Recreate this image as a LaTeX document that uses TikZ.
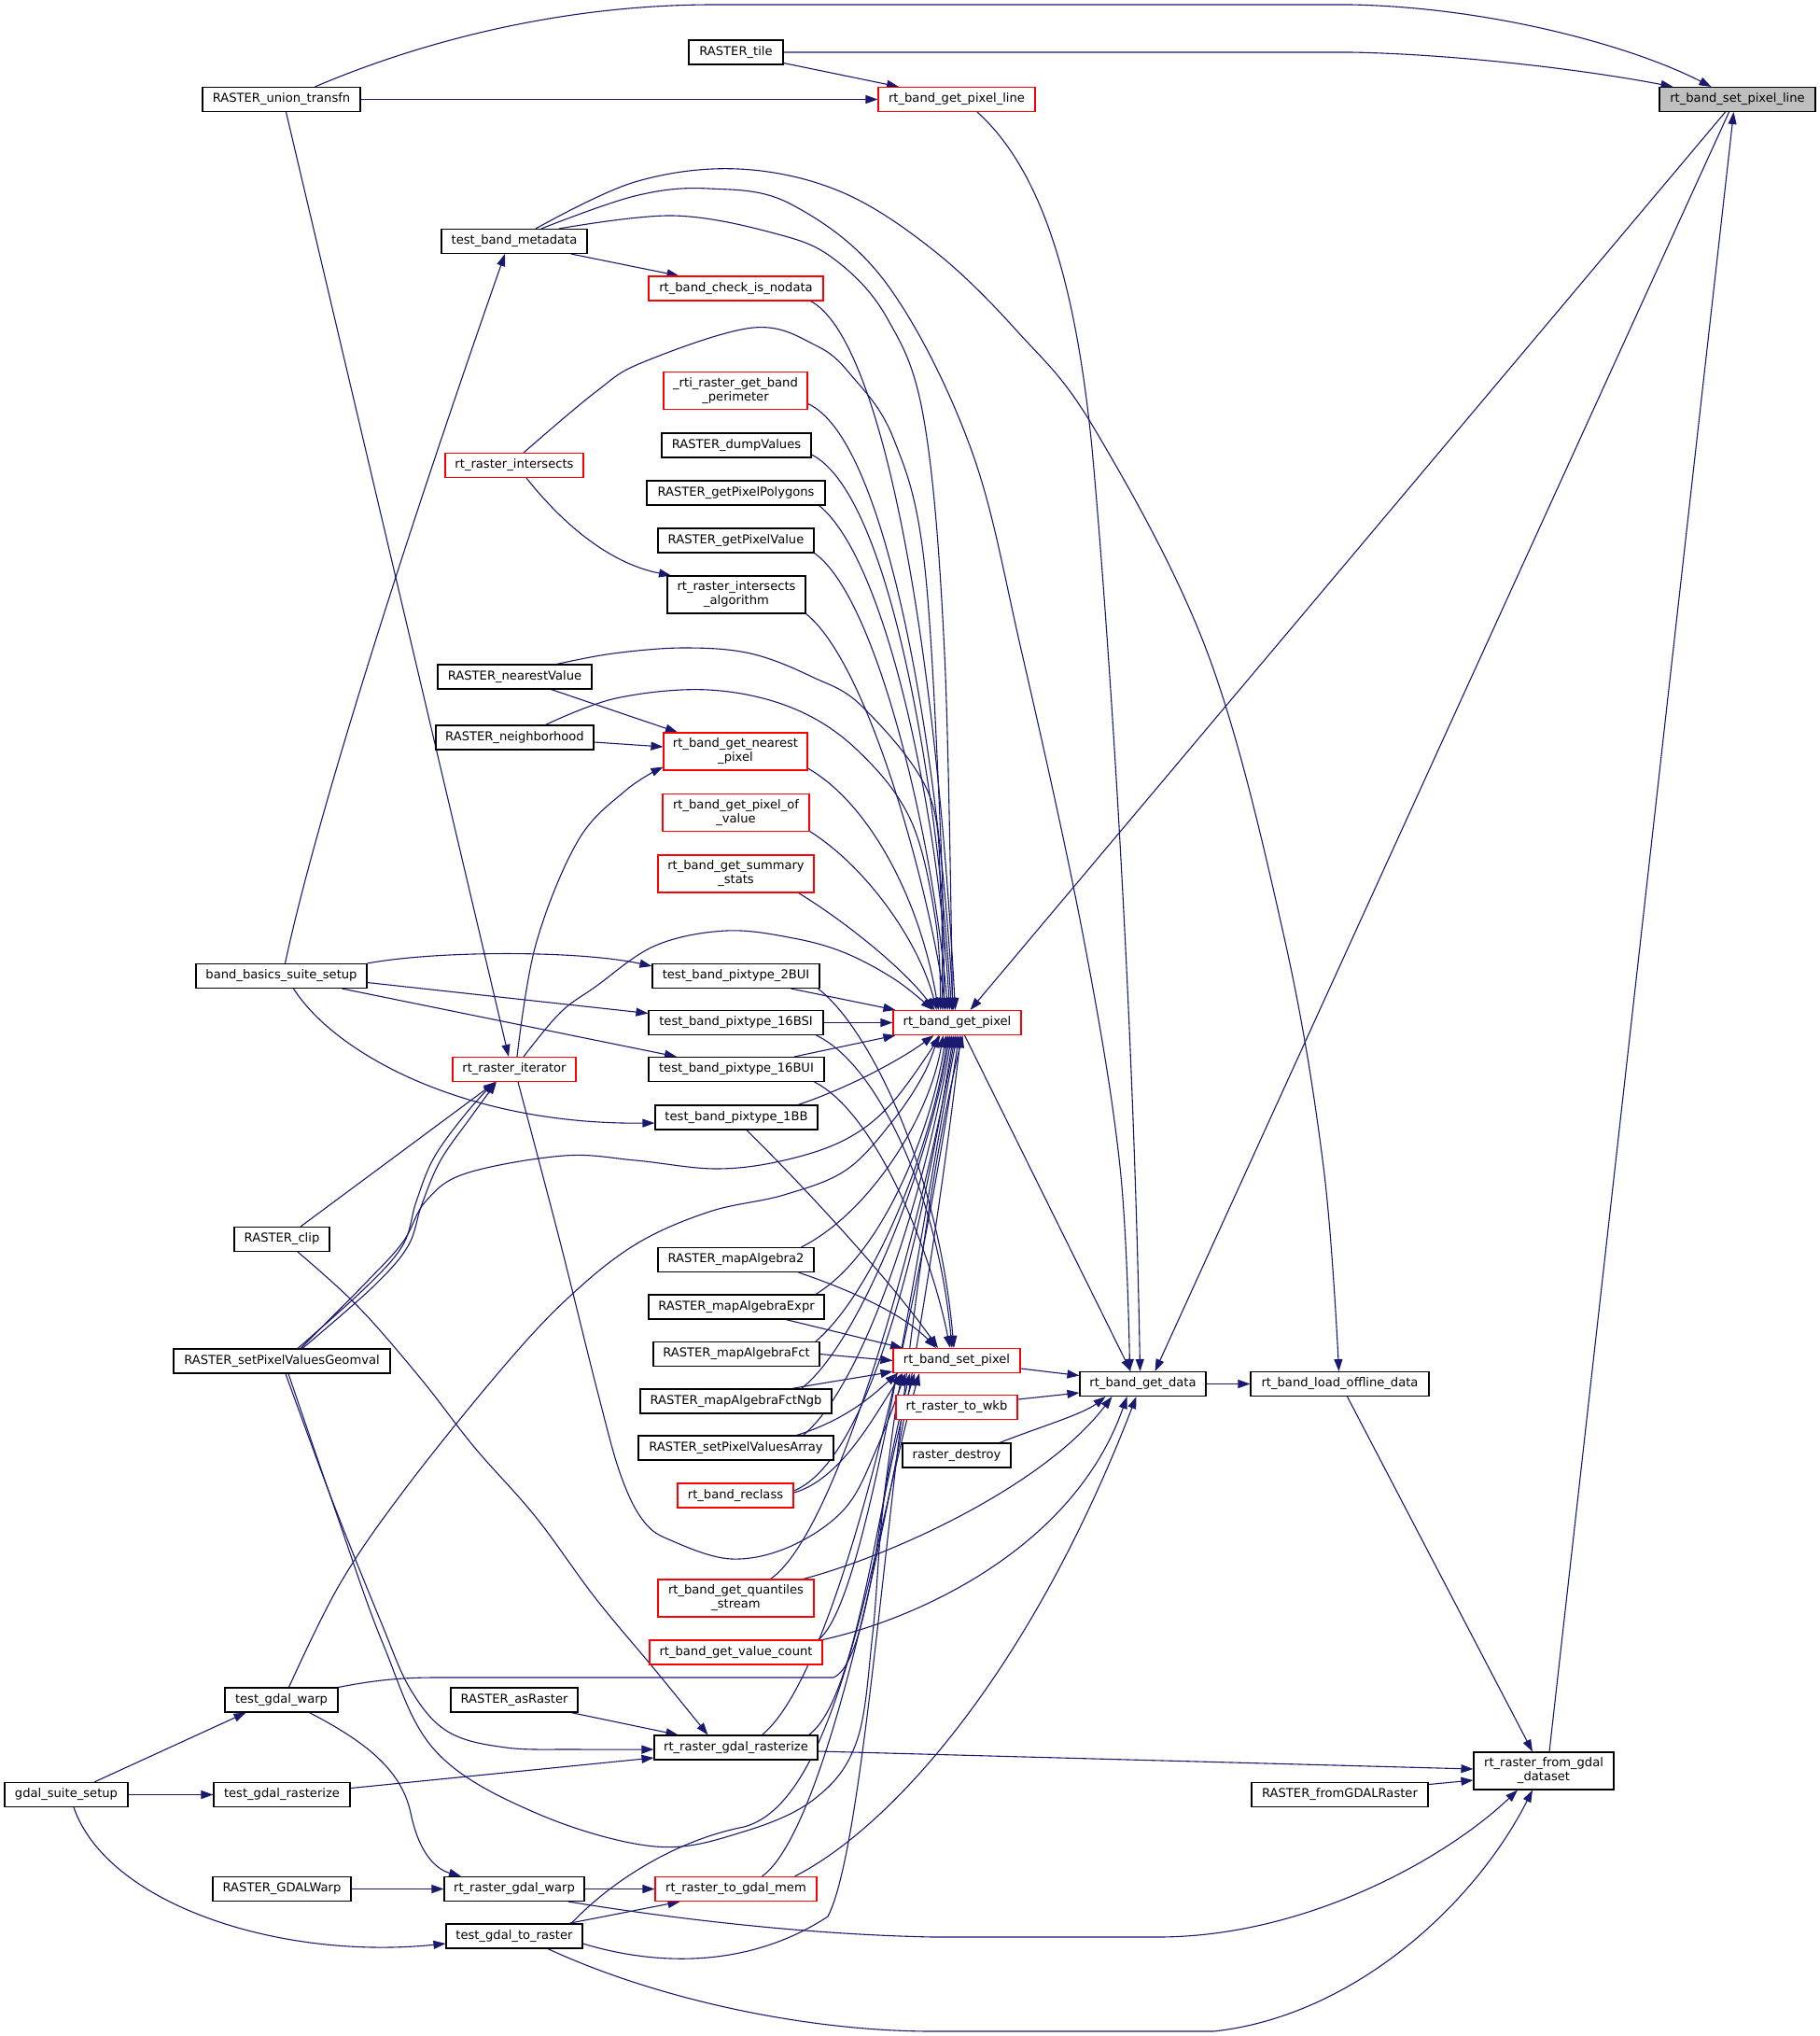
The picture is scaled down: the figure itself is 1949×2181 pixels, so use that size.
\documentclass[tikz,border=0pt]{standalone}
\usepackage{fontspec}
\setmainfont{DejaVu Sans}
\usetikzlibrary{arrows.meta}
\definecolor{edgec}{HTML}{191970}
\definecolor{redb}{HTML}{FF0000}
\definecolor{rootfill}{HTML}{BFBFBF}
\pgfdeclarelayer{paper}
\pgfdeclarelayer{bg}
\pgfsetlayers{paper,bg,main}
\begin{document}
\begin{tikzpicture}[x=1pt,y=-1pt,
  fn/.style={draw=black,line width=1.1pt,fill=white,inner sep=0pt,align=center,font=\fontsize{13.1}{15}\selectfont},
  fnr/.style={fn,draw=redb},
  edge/.style={draw=edgec,line width=1.1pt,-{Triangle[length=13pt,width=9pt]}},
]
\begin{pgfonlayer}{paper}
\fill[white] (0,0) rectangle (1949,2181);
\end{pgfonlayer}
\useasboundingbox (0,0) rectangle (1949,2181);

% ---------- nodes ----------
\node[fn,minimum width=169pt,minimum height=26pt] (unionT) at (301.5,106.5) {RASTER\_union\_transfn};
\node[fn,minimum width=101pt,minimum height=26pt] (tile) at (788.5,56) {RASTER\_tile};
\node[fnr,minimum width=168pt,minimum height=26pt] (getPL) at (1025,106.5) {rt\_band\_get\_pixel\_line};
\node[fn,fill=rootfill,minimum width=167pt,minimum height=26pt] (setPL) at (1861.5,106.5) {rt\_band\_set\_pixel\_line};
\node[fn,minimum width=156pt,minimum height=26pt] (metadata) at (551,258.5) {test\_band\_metadata};
\node[fnr,minimum width=187pt,minimum height=26pt] (checkNodata) at (788.5,309) {rt\_band\_check\_is\_nodata};
\node[fnr,minimum width=154pt,minimum height=40pt] (perimeter) at (788,418.5) {\_rti\_raster\_get\_band\\\_perimeter};
\node[fn,minimum width=160pt,minimum height=26pt] (dumpValues) at (789,477) {RASTER\_dumpValues};
\node[fnr,minimum width=148pt,minimum height=26pt] (intersects) at (551,498.5) {rt\_raster\_intersects};
\node[fn,minimum width=191pt,minimum height=26pt] (polygons) at (788.5,528) {RASTER\_getPixelPolygons};
\node[fn,minimum width=167pt,minimum height=26pt] (pixelValue) at (788.5,579) {RASTER\_getPixelValue};
\node[fn,minimum width=148pt,minimum height=40pt] (intersectsAlg) at (789,637) {rt\_raster\_intersects\\\_algorithm};
\node[fn,minimum width=165pt,minimum height=26pt] (nearestValue) at (551.5,725) {RASTER\_nearestValue};
\node[fn,minimum width=169pt,minimum height=26pt] (neighborhood) at (551.5,790) {RASTER\_neighborhood};
\node[fnr,minimum width=154pt,minimum height=40pt] (nearestPixel) at (788,805) {rt\_band\_get\_nearest\\\_pixel};
\node[fnr,minimum width=157pt,minimum height=40pt] (pixelOfValue) at (788.5,870.5) {rt\_band\_get\_pixel\_of\\\_value};
\node[fnr,minimum width=167pt,minimum height=40pt] (summaryStats) at (788.5,936) {rt\_band\_get\_summary\\\_stats};
\node[fn,minimum width=183pt,minimum height=26pt] (bandBasics) at (301.5,1045.5) {band\_basics\_suite\_setup};
\node[fn,minimum width=179pt,minimum height=26pt] (p2BUI) at (788.5,1045.5) {test\_band\_pixtype\_2BUI};
\node[fn,minimum width=187pt,minimum height=26pt] (p16BSI) at (788.5,1095.5) {test\_band\_pixtype\_16BSI};
\node[fnr,minimum width=137pt,minimum height=26pt] (getPixel) at (1025.5,1095.5) {rt\_band\_get\_pixel};
\node[fnr,minimum width=132pt,minimum height=26pt] (iterator) at (551,1145.5) {rt\_raster\_iterator};
\node[fn,minimum width=188pt,minimum height=26pt] (p16BUI) at (789,1145.5) {test\_band\_pixtype\_16BUI};
\node[fn,minimum width=174pt,minimum height=26pt] (p1BB) at (789,1197) {test\_band\_pixtype\_1BB};
\node[fn,minimum width=102pt,minimum height=26pt] (clip) at (302,1327.5) {RASTER\_clip};
\node[fn,minimum width=167pt,minimum height=26pt] (mapAlgebra2) at (788.5,1349.5) {RASTER\_mapAlgebra2};
\node[fn,minimum width=188pt,minimum height=26pt] (mapAlgebraExpr) at (789,1400) {RASTER\_mapAlgebraExpr};
\node[fn,minimum width=232pt,minimum height=26pt] (geomval) at (302,1458) {RASTER\_setPixelValuesGeomval};
\node[fn,minimum width=178pt,minimum height=26pt] (mapAlgebraFct) at (789,1450.5) {RASTER\_mapAlgebraFct};
\node[fnr,minimum width=136pt,minimum height=26pt] (setPixel) at (1025,1457.5) {rt\_band\_set\_pixel};
\node[fn,minimum width=135pt,minimum height=26pt] (getData) at (1224.5,1482.5) {rt\_band\_get\_data};
\node[fn,minimum width=191pt,minimum height=26pt] (loadOffline) at (1435.5,1482.5) {rt\_band\_load\_offline\_data};
\node[fn,minimum width=205pt,minimum height=26pt] (fctNgb) at (788.5,1501) {RASTER\_mapAlgebraFctNgb};
\node[fnr,minimum width=130pt,minimum height=26pt] (toWkb) at (1025,1507.5) {rt\_raster\_to\_wkb};
\node[fn,minimum width=209pt,minimum height=26pt] (pvArray) at (788.5,1551) {RASTER\_setPixelValuesArray};
\node[fn,minimum width=116pt,minimum height=26pt] (rasterDestroy) at (1025,1559) {raster\_destroy};
\node[fnr,minimum width=124pt,minimum height=26pt] (reclass) at (788,1602) {rt\_band\_reclass};
\node[fnr,minimum width=167pt,minimum height=40pt] (quantiles) at (788.5,1712) {rt\_band\_get\_quantiles\\\_stream};
\node[fnr,minimum width=185pt,minimum height=26pt] (valueCount) at (788.5,1770) {rt\_band\_get\_value\_count};
\node[fn,minimum width=121pt,minimum height=26pt] (testGdalWarp) at (301.5,1821) {test\_gdal\_warp};
\node[fn,minimum width=136pt,minimum height=26pt] (asRaster) at (551,1821) {RASTER\_asRaster};
\node[fn,minimum width=175pt,minimum height=26pt] (gdalRasterize) at (788.5,1872) {rt\_raster\_gdal\_rasterize};
\node[fn,minimum width=150pt,minimum height=40pt] (fromGdal) at (1654,1897) {rt\_raster\_from\_gdal\\\_dataset};
\node[fn,minimum width=132pt,minimum height=26pt] (gdalSuite) at (71,1922.5) {gdal\_suite\_setup};
\node[fn,minimum width=146pt,minimum height=26pt] (testGdalRasterize) at (302,1922.5) {test\_gdal\_rasterize};
\node[fn,minimum width=189pt,minimum height=26pt] (fromGDALRaster) at (1435.5,1922.5) {RASTER\_fromGDALRaster};
\node[fn,minimum width=148pt,minimum height=26pt] (GDALWarp) at (302,2023.5) {RASTER\_GDALWarp};
\node[fn,minimum width=150pt,minimum height=26pt] (gdalWarp) at (551,2023.5) {rt\_raster\_gdal\_warp};
\node[fnr,minimum width=173pt,minimum height=26pt] (toGdalMem) at (788.5,2023.5) {rt\_raster\_to\_gdal\_mem};
\node[fn,minimum width=146pt,minimum height=26pt] (testGdalToRaster) at (551,2074) {test\_gdal\_to\_raster};

% ---------- edges ----------
\begin{pgfonlayer}{bg}
% top region
\draw[edge] ([xshift=36pt]unionT.north) .. controls (450,45) and (600,5) .. (765,5) -- (1447,5) .. controls (1600,8) and (1750,50) .. ([xshift=-28pt]setPL.north);
\draw[edge] (tile.east) -- (1447,56) .. controls (1560,58) and (1700,75) .. ([xshift=-69pt]setPL.north);
\draw[edge] ([yshift=2pt]tile.south east) -- ([xshift=-62pt]getPL.north);
\draw[edge] (unionT.east) -- (getPL.west);
\draw[edge] ([xshift=22pt]getPL.south) .. controls (1125,190) and (1155,330) .. (1170,480) .. controls (1190,700) and (1215,1100) .. ([xshift=-3pt]getData.north);
\draw[edge] ([xshift=5pt]unionT.south) -- ([xshift=-6pt]iterator.north);
\draw[edge] ([xshift=-13pt]setPL.south) -- ([xshift=14pt]getPixel.north);
\draw[edge] ([xshift=-9pt]setPL.south) -- ([xshift=13pt]getData.north);
\draw[edge] ([xshift=6pt]fromGdal.north) -- ([xshift=-4pt]setPL.south);

% test_band_metadata
\draw[edge] ([xshift=61pt]metadata.south) -- ([xshift=-61pt]checkNodata.north);
\draw[edge] ([xshift=4pt]bandBasics.north) .. controls (340,870) and (440,560) .. ([xshift=-10pt]metadata.south);
\draw[edge] plot[smooth,tension=0.6] coordinates {([xshift=23pt]metadata.north) (680,195) (791,181) (900,205) (1000,268) (1090,355) (1173,460) (1294,700) (1375,1000) (1418,1250) ([xshift=-1pt]loadOffline.north)};
\draw[edge] plot[smooth,tension=0.6] coordinates {([xshift=29pt]metadata.north) (680,210) (759,202) (848,219) (950,304) (1040,480) (1095,700) (1160,1000) (1200,1250) ([xshift=-14pt]getData.north)};
\draw[edge] plot[smooth,tension=0.6] coordinates {([xshift=48pt]metadata.north) (721,231) (830,250) (893,277) (950,340) (990,450) (1012,700) ([xshift=-5pt]getPixel.north)};

% fan into rt_band_get_pixel from above
\draw[edge] ([xshift=80pt]checkNodata.south) .. controls (940,360) and (1000,650) .. ([xshift=-2pt]getPixel.north);
\draw[edge] ([yshift=-14pt]perimeter.east) .. controls (950,470) and (1005,800) .. ([xshift=-4pt]getPixel.north);
\draw[edge] ([yshift=-10pt]dumpValues.east) .. controls (955,530) and (1005,850) .. ([xshift=-6pt]getPixel.north);
\draw[edge] ([xshift=-7pt]polygons.south east) .. controls (950,600) and (1005,870) .. ([xshift=-8pt]getPixel.north);
\draw[edge] (pixelValue.south east) .. controls (940,640) and (1000,900) .. ([xshift=-10pt]getPixel.north);
\draw[edge] (intersectsAlg.south east) .. controls (930,710) and (995,950) .. ([xshift=-12pt]getPixel.north);
\draw[edge] plot[smooth,tension=0.6] coordinates {([xshift=10pt]intersects.north) (638,420) (689,388) (807,351) (874,370) (912,402) (957,469) (990,600) (1008,900) ([xshift=-14pt]getPixel.north)};
\draw[edge] ([xshift=13pt]intersects.south) .. controls (610,570) and (660,605) .. ([xshift=-70pt]intersectsAlg.north);
\draw[edge] ([xshift=39pt]nearestValue.south) -- ([xshift=-62pt]nearestPixel.north);
\draw[edge] ([yshift=-5pt]neighborhood.east) -- ([yshift=5pt]nearestPixel.west);
\draw[edge] plot[smooth,tension=0.6] coordinates {([xshift=45pt]nearestValue.north) (657,700) (733,694) (804,700) (870,725) (925,758) (995,850) (1008,960) ([xshift=-16pt]getPixel.north)};
\draw[edge] plot[smooth,tension=0.6] coordinates {([xshift=33pt]neighborhood.north) (660,748) (759,739) (848,758) (918,803) (976,879) (1003,990) ([xshift=-18pt]getPixel.north)};
\draw[edge] ([yshift=-18pt]nearestPixel.east) .. controls (930,860) and (985,960) .. ([xshift=-20pt]getPixel.north);
\draw[edge] ([yshift=-20pt]pixelOfValue.east) .. controls (930,930) and (985,1010) .. ([xshift=-22pt]getPixel.north);
\draw[edge] ([xshift=-17pt]summaryStats.south east) .. controls (910,990) and (970,1040) .. ([xshift=-24pt]getPixel.north);
\draw[edge] plot[smooth,tension=0.6] coordinates {([xshift=10pt]iterator.north) (600,1085) (638,1057) (702,1013) (778,997) (850,1005) (906,1021) (960,1050) ([xshift=-26pt]getPixel.north)};
\draw[edge] plot[smooth,tension=0.6] coordinates {([xshift=3pt]iterator.north) (574,1012) (619,901) (670,847) ([yshift=4pt]nearestPixel.south west)};

% band_basics_suite_setup
\draw[edge] (bandBasics.north east) .. controls (470,1018) and (620,1018) .. ([yshift=-3pt]p2BUI.north west);
\draw[edge] ([yshift=-7pt]bandBasics.east) -- ([yshift=10pt]p16BSI.west);
\draw[edge] ([xshift=65pt]bandBasics.south) -- ([xshift=-64pt]p16BUI.north);
\draw[edge] ([xshift=13pt]bandBasics.south) .. controls (360,1130) and (500,1205) .. ([yshift=-6pt]p1BB.west);

% pixtype tests
\draw[edge] ([xshift=59pt]p2BUI.south) -- ([xshift=3pt]getPixel.north west);
\draw[edge] ([xshift=88pt]p2BUI.south) .. controls (930,1100) and (1005,1250) .. ([xshift=-3pt]setPixel.north);
\draw[edge] (p16BSI.east) -- (getPixel.west);
\draw[edge] ([xshift=-8pt]p16BSI.south east) .. controls (940,1140) and (1005,1280) .. ([xshift=-5pt]setPixel.north);
\draw[edge] ([xshift=62pt]p16BUI.north) -- ([xshift=3pt]getPixel.south west);
\draw[edge] ([xshift=-11pt]p16BUI.south east) .. controls (935,1190) and (995,1330) .. ([xshift=-7pt]setPixel.north);
\draw[edge] ([xshift=66pt]p1BB.north) .. controls (910,1165) and (965,1135) .. ([xshift=-25pt]getPixel.south);
\draw[edge] ([xshift=11pt]p1BB.south) .. controls (880,1290) and (960,1380) .. ([xshift=-20pt]setPixel.north);

% map algebra etc.
\draw[edge] ([xshift=70pt]mapAlgebra2.north) .. controls (930,1300) and (995,1200) .. ([xshift=-15pt]getPixel.south);
\draw[edge] ([xshift=67pt]mapAlgebra2.south) .. controls (920,1385) and (970,1410) .. ([xshift=-22pt]setPixel.north);
\draw[edge] ([xshift=85pt]mapAlgebraExpr.north) .. controls (950,1340) and (1000,1200) .. ([xshift=-12pt]getPixel.south);
\draw[edge] ([xshift=53pt]mapAlgebraExpr.south) -- ([xshift=-58pt]setPixel.north);
\draw[edge] ([xshift=85pt]mapAlgebraFct.north) .. controls (940,1380) and (1000,1220) .. ([xshift=-10pt]getPixel.south);
\draw[edge] (mapAlgebraFct.east) -- (setPixel.west);
\draw[edge] ([xshift=70pt]fctNgb.north) .. controls (920,1440) and (995,1250) .. ([xshift=-8pt]getPixel.south);
\draw[edge] ([xshift=60pt]fctNgb.north) .. controls (890,1480) and (930,1474) .. ([yshift=2pt]setPixel.south west);
\draw[edge] ([xshift=72pt]pvArray.north) .. controls (930,1480) and (995,1260) .. ([xshift=-6pt]getPixel.south);
\draw[edge] ([xshift=65pt]pvArray.north) .. controls (910,1520) and (940,1490) .. ([xshift=5pt]setPixel.south west);
\draw[edge] ([yshift=5pt]reclass.east) .. controls (940,1560) and (995,1280) .. ([xshift=-4pt]getPixel.south);
\draw[edge] ([yshift=3pt]reclass.east) .. controls (900,1585) and (935,1520) .. ([xshift=10pt]setPixel.south west);
\draw[edge] ([xshift=37pt]quantiles.north) .. controls (900,1640) and (990,1300) .. ([xshift=-2pt]getPixel.south);
\draw[edge] ([xshift=72pt]quantiles.north) .. controls (960,1665) and (1120,1590) .. ([xshift=-33pt]getData.south);
\draw[edge] ([xshift=88pt]valueCount.north) .. controls (930,1720) and (985,1320) .. (getPixel.south);
\draw[edge] (valueCount.north east) .. controls (980,1735) and (1150,1660) .. ([xshift=-17pt]getData.south);
\draw[edge] ([xshift=46pt]rasterDestroy.north) .. controls (1110,1530) and (1160,1515) .. ([xshift=-40pt]getData.south);
\draw[edge] ([yshift=8.5pt]toWkb.east) -- ([yshift=-9.5pt]getData.west);
\draw[edge] ([yshift=-8.5pt]setPixel.east) -- ([yshift=9pt]getData.west);
\draw[edge] ([xshift=8pt]getPixel.south) -- ([xshift=-13pt]getData.north);
\draw[edge] (getData.east) -- (loadOffline.west);
\draw[edge] ([xshift=8pt]loadOffline.south) -- ([xshift=-12pt]fromGdal.north);
\draw[edge] ([yshift=11pt]fromGDALRaster.east) -- ([yshift=-10pt]fromGdal.west);
\draw[edge] ([yshift=-4pt]gdalRasterize.east) -- ([yshift=2pt]fromGdal.west);
\draw[edge] ([xshift=58pt]gdalWarp.south) .. controls (700,2052) and (850,2072) .. (1000,2075) -- (1240,2075) .. controls (1400,2075) and (1550,1990) .. ([xshift=-28pt]fromGdal.south);
\draw[edge] ([xshift=36pt]testGdalToRaster.south) .. controls (700,2140) and (860,2176) .. (1000,2176) -- (1300,2176) .. controls (1450,2160) and (1580,2040) .. ([xshift=-12pt]fromGdal.south);

% gdal tests
\draw[edge] ([xshift=30pt]gdalSuite.north) -- ([xshift=-38pt]testGdalWarp.south);
\draw[edge] (gdalSuite.east) -- (testGdalRasterize.west);
\draw[edge] ([xshift=8pt]gdalSuite.south) .. controls (115,2040) and (300,2100) .. ([yshift=-8pt]testGdalToRaster.west);
\draw[edge] ([xshift=30pt]testGdalWarp.south) .. controls (390,1865) and (430,1895) .. (440,1942) .. controls (450,1990) and (470,2003) .. ([xshift=-57pt]gdalWarp.north);
\draw[edge] plot[smooth,tension=0.6] coordinates {([xshift=8pt]testGdalWarp.north) (364,1697) (434,1595) (537,1467) (609,1390) (681,1333) (760,1298) (840,1280) (907,1253) (957,1200) (990,1150) ([xshift=-20pt]getPixel.south)};
\draw[edge] (testGdalWarp.north east) .. controls (400,1800) and (430,1797) .. (466,1797) -- (893,1797) .. controls (935,1780) and (950,1550) .. ([xshift=-58pt]setPixel.south);
\draw[edge] ([yshift=7pt]testGdalRasterize.east) -- ([yshift=-11pt]gdalRasterize.west);
\draw[edge] ([xshift=61pt]asRaster.south) -- ([xshift=-62pt]gdalRasterize.north);
\draw[edge] plot[smooth,tension=0.6] coordinates {([xshift=17pt]clip.south) (384,1400) (451,1477) (508,1550) (574,1625) (638,1712) (702,1789) ([xshift=-30pt]gdalRasterize.north)};
\draw[edge] ([xshift=20pt]clip.north) -- ([xshift=-20pt]iterator.south);
\draw[edge] plot[smooth,tension=0.6] coordinates {([xshift=17pt]geomval.north) (394,1377) (432,1333) (446,1287) (465,1240) (499,1193) ([xshift=-21pt]iterator.south)};
\draw[edge] plot[smooth,tension=0.6] coordinates {([xshift=22pt]geomval.north) (399,1379) (437,1335) (452,1290) (472,1243) (505,1196) ([xshift=-19pt]iterator.south)};
\draw[edge] plot[smooth,tension=0.6] coordinates {([xshift=20pt]geomval.north) (394,1372) (432,1330) (456,1287) (499,1257) (604,1238) (681,1243) (767,1252) (840,1243) (907,1220) (957,1180) ([xshift=-18pt]getPixel.south)};
\draw[edge] plot[smooth,tension=0.6] coordinates {([xshift=4pt]geomval.south) (357,1610) (408,1737) (440,1810) (480,1855) (542,1872) (620,1874) ([yshift=-2pt]gdalRasterize.west)};
\draw[edge] plot[smooth,tension=0.6] coordinates {([xshift=7pt]geomval.south) (360,1620) (410,1760) (466,1875) (574,1942) (702,1978) (797,1962) (874,1926) (918,1865) (935,1750) (948,1600) ([xshift=-50pt]setPixel.south)};
\draw[edge] ([xshift=28pt]gdalRasterize.north) .. controls (900,1790) and (985,1400) .. ([xshift=2pt]getPixel.south);
\draw[edge] ([xshift=78pt]gdalRasterize.north) .. controls (920,1820) and (940,1600) .. ([xshift=-45pt]setPixel.south);
\draw[edge] ([xshift=28pt]toGdalMem.north) .. controls (900,1950) and (990,1450) .. ([xshift=4pt]getPixel.south);
\draw[edge] ([xshift=63pt]toGdalMem.north) .. controls (950,1960) and (1100,1800) .. ([xshift=-7pt]getData.south);
\draw[edge] (gdalWarp.east) -- (toGdalMem.west);
\draw[edge] (GDALWarp.east) -- (gdalWarp.west);
\draw[edge] ([xshift=58pt]testGdalToRaster.north) -- ([xshift=-60pt]toGdalMem.south);
\draw[edge] ([xshift=61pt]testGdalToRaster.north) .. controls (660,2010) and (730,1970) .. (797,1957) .. controls (900,1930) and (935,1650) .. ([xshift=-40pt]setPixel.south);
\draw[edge] ([yshift=-8pt]testGdalToRaster.east) .. controls (700,2105) and (800,2110) .. (887,2053) .. controls (935,1960) and (960,1400) .. ([xshift=6pt]getPixel.south);
\draw[edge] plot[smooth,tension=0.6] coordinates {([xshift=4pt]iterator.south) (600,1330) (640,1490) (665,1580) (690,1630) (721,1651) (784,1670) (848,1656) (906,1615) (940,1550) ([xshift=-55pt]setPixel.south)};
\end{pgfonlayer}
\end{tikzpicture}
\end{document}
